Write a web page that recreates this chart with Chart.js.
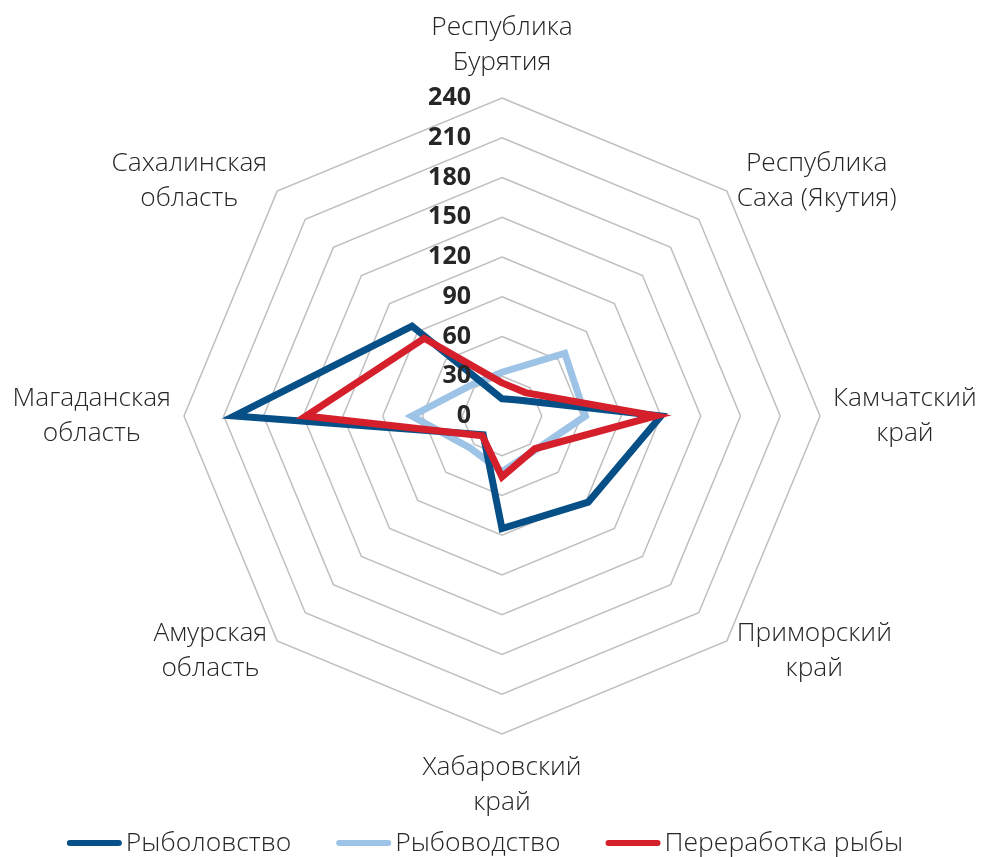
<!DOCTYPE html>
<html>
<head>
<meta charset="utf-8">
<script src="https://cdn.jsdelivr.net/npm/chart.js@4/dist/chart.umd.min.js"></script>
<style>
  html, body { margin: 0; padding: 0; background: #fff; }
  #wrap { width: 981px; height: 857px; }
</style>
</head>
<body>
<div id="wrap"><canvas id="chart"></canvas></div>
<script>
/* ─── Data ───────────────────── */
const regions = [
  ['Республика', 'Бурятия'],
  ['Республика', 'Саха (Якутия)'],
  ['Камчатский', 'край'],
  ['Приморский', 'край'],
  ['Хабаровский', 'край'],
  ['Амурская', 'область'],
  ['Магаданская', 'область'],
  ['Сахалинская', 'область']
];
const fishing     = [13, 17, 120, 92, 85, 20, 202, 96];
const aquaculture = [33, 67, 63, 36, 42, 34, 68, 33];
const processing  = [25, 25, 116, 35, 46, 21, 148, 83];
const tickValues  = [0, 30, 60, 90, 120, 150, 180, 210, 240];

Chart.defaults.font.family = "'Open Sans', sans-serif";
Chart.defaults.color = '#262626';

/* ─── Tick labels to the left of the vertical axis ───────────────────── */
const leftTicks = {
  id: 'leftTicks',
  afterDatasetsDraw(chart) {
    const scale = chart.scales.r;
    const ctx = chart.ctx;
    ctx.save();
    ctx.font = "bold 25px 'Open Sans', sans-serif";
    ctx.fillStyle = '#262626';
    ctx.textAlign = 'right';
    ctx.textBaseline = 'middle';
    tickValues.forEach(v => {
      const d = scale.getDistanceFromCenterForValue(v);
      ctx.fillText(String(v), scale.xCenter - 31, scale.yCenter - d);
    });
    ctx.restore();
  }
};

/* ─── Category labels, placed like the spreadsheet does ───────────────────── */
const spokeLabels = {
  id: 'spokeLabels',
  afterDraw(chart) {
    const scale = chart.scales.r;
    const ctx = chart.ctx;
    const lineH = 35;
    const gaps = [18, 14, 13, 14, 16, 14, 13, 14];
    ctx.save();
    ctx.font = "300 26.3px 'Open Sans', sans-serif";
    ctx.fillStyle = '#262626';
    ctx.textBaseline = 'middle';
    ctx.textAlign = 'center';
    chart.data.labels.forEach((lines, i) => {
      const p = scale.getPointPosition(i, scale.drawingArea + gaps[i]);
      const a = scale.getIndexAngle(i) - Math.PI / 2;
      const c = Math.cos(a), s = Math.sin(a);
      const blockW = Math.max(...lines.map(t => ctx.measureText(t).width));
      const blockH = lines.length * lineH;
      let cx = p.x;
      if (c > 0.1) cx = p.x + blockW / 2;
      else if (c < -0.1) cx = p.x - blockW / 2;
      let top;
      if (s < -0.9) top = p.y - blockH;
      else if (s > 0.9) top = p.y;
      else top = p.y - blockH / 2;
      lines.forEach((t, k) => ctx.fillText(t, cx, top + lineH * (k + 0.5)));
    });
    ctx.restore();
  }
};

/* ─── Bottom legend: line sample + label ───────────────────── */
const lineLegend = {
  id: 'lineLegend',
  afterDraw(chart) {
    const ctx = chart.ctx;
    const sets = chart.data.datasets;
    const sample = 55, gapText = 4, gapItem = 45, y = 843;
    ctx.save();
    ctx.font = "300 26.5px 'Open Sans', sans-serif";
    const widths = sets.map(ds => ctx.measureText(ds.label).width);
    const total = widths.reduce((s, w) => s + sample + gapText + w, 0) + gapItem * (sets.length - 1);
    let x = 485 - total / 2;
    sets.forEach((ds, i) => {
      ctx.strokeStyle = ds.borderColor;
      ctx.lineWidth = 6;
      ctx.lineCap = 'round';
      ctx.beginPath();
      ctx.moveTo(x + 3, y);
      ctx.lineTo(x + sample - 3, y);
      ctx.stroke();
      ctx.fillStyle = '#262626';
      ctx.textAlign = 'left';
      ctx.textBaseline = 'middle';
      ctx.fillText(ds.label, x + sample + gapText, y);
      x += sample + gapText + widths[i] + gapItem;
    });
    ctx.restore();
  }
};

const series = (label, data, color, order) => ({
  label,
  data,
  borderColor: color,
  backgroundColor: color,
  borderWidth: 7,
  fill: false,
  pointRadius: 0,
  pointHoverRadius: 0,
  order
});

new Chart(document.getElementById('chart'), {
  type: 'radar',
  data: {
    labels: regions,
    datasets: [
      series('Рыболовство', fishing, '#064F87', 1),
      series('Рыбоводство', aquaculture, '#9DC3E6', 2),
      series('Переработка рыбы', processing, '#D51F2A', 0)
    ]
  },
  options: {
    responsive: true,
    maintainAspectRatio: false,
    animation: false,
    layout: { padding: { left: 184, right: 161, top: 98, bottom: 123 } },
    elements: { line: { tension: 0 } },
    plugins: {
      tooltip: { enabled: false },
      legend: { display: false }
    },
    scales: {
      r: {
        min: 0,
        max: 240,
        ticks: { stepSize: 30, display: false },
        grid: { color: '#BFBFBF', lineWidth: 1.5 },
        angleLines: { display: false },
        pointLabels: { display: false }
      }
    }
  },
  plugins: [leftTicks, spokeLabels, lineLegend]
});
</script>
</body>
</html>
